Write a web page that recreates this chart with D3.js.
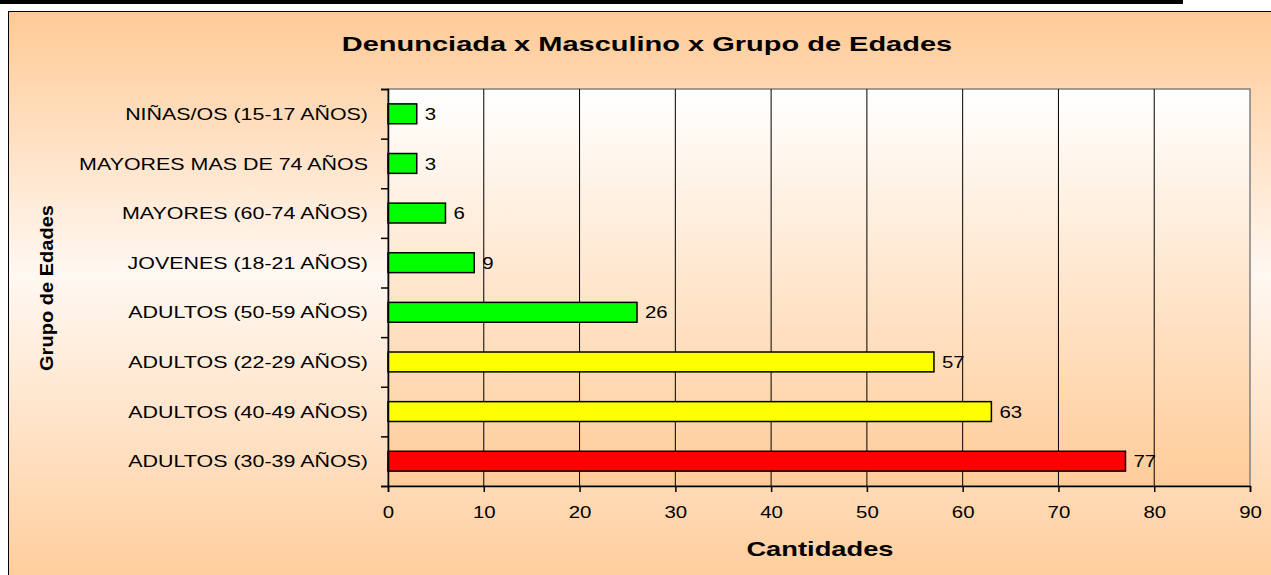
<!DOCTYPE html>
<html>
<head>
<meta charset="utf-8">
<script src="https://cdn.jsdelivr.net/npm/d3@7"></script>
<style>
  body { margin: 0; background: #fff; }
  svg { display: block; font-family: "Liberation Sans", Arial, sans-serif; }
</style>
</head>
<body>
<script>
const categories = [
  'NIÑAS/OS (15-17 AÑOS)',
  'MAYORES MAS DE 74 AÑOS',
  'MAYORES (60-74 AÑOS)',
  'JOVENES (18-21 AÑOS)',
  'ADULTOS (50-59 AÑOS)',
  'ADULTOS (22-29 AÑOS)',
  'ADULTOS (40-49 AÑOS)',
  'ADULTOS (30-39 AÑOS)',
]
const values = [3, 3, 6, 9, 26, 57, 63, 77]
const barColors = ['#00ff00', '#00ff00', '#00ff00', '#00ff00', '#00ff00', '#ffff00', '#ffff00', '#ff0000']
const xTicks = [0, 10, 20, 30, 40, 50, 60, 70, 80, 90]

;(function () {
  const W = 1271, H = 575
  const plot = { left: 388, top: 89, right: 1250, bottom: 486 }

  // the original text is drawn wide, so stretch each label horizontally
  function stretch(sel, factor) {
    sel.each(function () {
      const len = this.getComputedTextLength()
      d3.select(this).attr('textLength', len * factor).attr('lengthAdjust', 'spacingAndGlyphs')
    })
  }

  const svg = d3.select('body').append('svg').attr('width', W).attr('height', H)
  const defs = svg.append('defs')

  const outer = defs.append('linearGradient').attr('id', 'outerGrad')
    .attr('x1', 0).attr('y1', 0).attr('x2', 0).attr('y2', 1)
  outer.append('stop').attr('offset', '0%').attr('stop-color', '#ffca96')
  outer.append('stop').attr('offset', '45%').attr('stop-color', '#fff8f2')
  outer.append('stop').attr('offset', '100%').attr('stop-color', '#ffcb98')

  const inner = defs.append('linearGradient').attr('id', 'innerGrad')
    .attr('x1', 0).attr('y1', 0).attr('x2', 0).attr('y2', 1)
  inner.append('stop').attr('offset', '0%').attr('stop-color', '#ffffff')
  inner.append('stop').attr('offset', '100%').attr('stop-color', '#ffcc99')

  // top black rule
  svg.append('rect').attr('x', 0).attr('y', 0).attr('width', 1183).attr('height', 4).attr('fill', '#000')

  // chart area
  svg.append('rect').attr('x', 8.5).attr('y', 11.5).attr('width', W + 10).attr('height', H + 10)
    .attr('fill', 'url(#outerGrad)').attr('stroke', '#000').attr('stroke-width', 1)

  const x = d3.scaleLinear().domain([0, 90]).range([plot.left, plot.right])
  const y = d3.scaleBand().domain(categories).range([plot.top, plot.bottom]).paddingInner(0.6).paddingOuter(0.3)
  const yEdges = d3.scaleLinear().domain([0, categories.length]).range([plot.top, plot.bottom])

  svg.append('rect').attr('x', plot.left).attr('y', plot.top)
    .attr('width', plot.right - plot.left).attr('height', plot.bottom - plot.top)
    .attr('fill', 'url(#innerGrad)').attr('stroke', '#808080').attr('stroke-width', 1.5)

  // gridlines
  svg.append('g').selectAll('line').data(xTicks.slice(1, -1)).enter().append('line')
    .attr('x1', (d) => x(d)).attr('x2', (d) => x(d))
    .attr('y1', plot.top).attr('y2', plot.bottom)
    .attr('stroke', '#000').attr('stroke-width', 1)

  // bars
  svg.append('g').selectAll('rect').data(values).enter().append('rect')
    .attr('x', x(0))
    .attr('y', (d, i) => y(categories[i]))
    .attr('width', (d) => x(d) - x(0))
    .attr('height', y.bandwidth())
    .attr('fill', (d, i) => barColors[i])
    .attr('stroke', '#000').attr('stroke-width', 1.5)

  // value labels
  const valueLabels = svg.append('g').selectAll('text').data(values).enter().append('text')
    .attr('x', (d) => x(d) + 8)
    .attr('y', (d, i) => y(categories[i]) + y.bandwidth() / 2)
    .attr('dy', '0.36em')
    .attr('font-size', 17)
    .text((d) => d)
  stretch(valueLabels, 1.2)

  // x axis
  const xAxis = svg.append('g').attr('transform', `translate(0,${plot.bottom})`)
    .call(d3.axisBottom(x).tickValues(xTicks).tickSize(6).tickPadding(14))
  xAxis.select('.domain').attr('stroke', '#000').attr('stroke-width', 1.5)
  xAxis.selectAll('.tick line').attr('stroke', '#000').attr('stroke-width', 1.5)
  xAxis.selectAll('text').attr('font-size', 17).attr('fill', '#000').attr('font-family', '"Liberation Sans", Arial, sans-serif')
  stretch(xAxis.selectAll('text'), 1.2)

  // y axis (ticks at category boundaries)
  const yAxis = svg.append('g').attr('transform', `translate(${plot.left},0)`)
    .call(d3.axisLeft(yEdges).tickValues(d3.range(categories.length + 1)).tickSize(7).tickFormat(''))
  yAxis.select('.domain').attr('stroke', '#000').attr('stroke-width', 1.5)
  yAxis.selectAll('.tick line').attr('stroke', '#000').attr('stroke-width', 1.5)

  // category labels
  const catLabels = svg.append('g').selectAll('text').data(categories).enter().append('text')
    .attr('x', 368)
    .attr('y', (d) => y(d) + y.bandwidth() / 2)
    .attr('dy', '0.36em')
    .attr('text-anchor', 'end')
    .attr('font-size', 17)
    .text((d) => d)
  stretch(catLabels, 1.26)

  // titles
  const title = svg.append('text').attr('x', 647).attr('y', 51).attr('text-anchor', 'middle')
    .attr('font-size', 21).attr('font-weight', 'bold').text('Denunciada x Masculino x Grupo de Edades')
  stretch(title, 1.38)
  const xTitle = svg.append('text').attr('x', 820).attr('y', 556).attr('text-anchor', 'middle')
    .attr('font-size', 21).attr('font-weight', 'bold').text('Cantidades')
  stretch(xTitle, 1.3)
  const yTitle = svg.append('text').attr('transform', 'translate(53,288) rotate(-90)').attr('text-anchor', 'middle')
    .attr('font-size', 18).attr('font-weight', 'bold').text('Grupo de Edades')
  yTitle.attr('textLength', 166).attr('lengthAdjust', 'spacingAndGlyphs')
})()
</script>
</body>
</html>
